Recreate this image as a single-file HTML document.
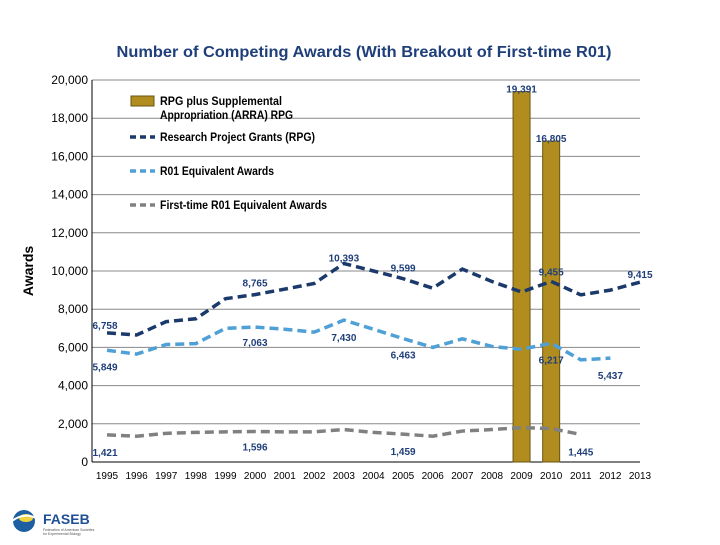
<!DOCTYPE html>
<html><head><meta charset="utf-8"><style>
body{margin:0;background:#fff;font-family:"Liberation Sans",Arial,sans-serif}
svg text{font-family:"Liberation Sans",Arial,sans-serif}
</style></head><body>
<svg id="chart" width="720" height="540" xmlns="http://www.w3.org/2000/svg">
<text x="364" y="57" text-anchor="middle" font-size="16" font-weight="bold" fill="#1f3f7a" textLength="495" lengthAdjust="spacingAndGlyphs">Number of Competing Awards (With Breakout of First-time R01)</text>
<text transform="translate(33,271) rotate(-90)" text-anchor="middle" font-size="14" font-weight="bold" fill="#000">Awards</text>
<g id="grid"></g><g id="bars"></g><g id="lines"></g><g id="labels"></g><g id="axes"></g>
<g font-size="11.5" font-weight="bold" fill="#000">
<rect x="131" y="96" width="23" height="10" fill="#b08d1e" stroke="#6b5410"/>
<text x="160" y="105" textLength="122" lengthAdjust="spacingAndGlyphs">RPG plus Supplemental</text>
<text x="160" y="119" textLength="133" lengthAdjust="spacingAndGlyphs">Appropriation (ARRA) RPG</text>
<line x1="130" y1="137" x2="155" y2="137" stroke="#1b3a6b" stroke-width="3.5" stroke-dasharray="6,4"/>
<text x="160" y="141" textLength="155" lengthAdjust="spacingAndGlyphs">Research Project Grants (RPG)</text>
<line x1="130" y1="171" x2="155" y2="171" stroke="#4fa0d6" stroke-width="3.5" stroke-dasharray="6,4"/>
<text x="160" y="175" textLength="114" lengthAdjust="spacingAndGlyphs">R01 Equivalent Awards</text>
<line x1="130" y1="205" x2="155" y2="205" stroke="#808080" stroke-width="3.5" stroke-dasharray="6,4"/>
<text x="160" y="209" textLength="167" lengthAdjust="spacingAndGlyphs">First-time R01 Equivalent Awards</text>
</g>
<g>
<circle cx="24" cy="521" r="11" fill="#1e5fa3"/>
<ellipse cx="26" cy="518" rx="7" ry="4" fill="#f2d23a"/>
<path d="M12 521 Q24 512 36 518" stroke="#fff" stroke-width="2" fill="none"/>
<text x="43" y="524" font-size="14" font-weight="bold" fill="#1f4f96">FASEB</text>
<text x="43" y="531" font-size="3.5" fill="#555">Federation of American Societies</text>
<text x="43" y="535" font-size="3.5" fill="#555">for Experimental Biology</text>
</g>
</svg>
<script>
const years=[1995,1996,1997,1998,1999,2000,2001,2002,2003,2004,2005,2006,2007,2008,2009,2010,2011,2012,2013];
const rpg=[6758,6650,7350,7500,8550,8765,9050,9350,10393,10000,9599,9100,10100,9450,8900,9455,8750,9000,9415];
const r01=[5849,5650,6150,6200,7000,7063,6950,6800,7430,6950,6463,6000,6450,6050,5900,6217,5350,5437];
const firstR01=[1421,1350,1500,1550,1580,1596,1580,1580,1700,1550,1459,1350,1620,1700,1800,1750,1445];
const arraYears=[2009,2010];
const arraValues=[19391,16805];
const yTicks=[0,2000,4000,6000,8000,10000,12000,14000,16000,18000,20000];
const rpgLabelIdx=[0,5,8,10,15,18];
const r01LabelIdx=[0,5,8,10,15,17];
const firstLabelIdx=[0,5,10,16];
const NS="http://www.w3.org/2000/svg";
const X=y=>107+(y-1995)*(533/18);
const Y=v=>462-v*(382/20000);
const fmt=v=>v.toLocaleString('en-US');
function mk(p,t,a){const e=document.createElementNS(NS,t);for(const k in a)e.setAttribute(k,a[k]);document.getElementById(p).appendChild(e);return e;}
yTicks.forEach(t=>{
 const l=mk('grid','line',{x1:92,x2:640,y1:Y(t),y2:Y(t),stroke:t===0?'#000':'#888','stroke-width':1});
 
 
 const tx=mk('axes','text',{x:88,y:Y(t)+4,'text-anchor':'end','font-size':12,fill:'#000'});tx.textContent=fmt(t);
 
 
});
const ax=mk('axes','line',{x1:92,x2:92,y1:Y(20000),y2:462,stroke:'#000'});


years.forEach(y=>{
 const t=mk('axes','text',{x:X(y),y:479,'text-anchor':'middle','font-size':10,fill:'#000'});t.textContent=y;
 
 
});
arraYears.forEach((y,i)=>{
 const r=mk('bars','rect',{x:X(y)-8.5,y:Y(arraValues[i]),width:17,height:462-Y(arraValues[i]),fill:'#b08d1e',stroke:'#6b5410'});
 
 
 const t=mk('labels','text',{x:X(y),y:Y(arraValues[i])+1,'text-anchor':'middle','font-size':10,'font-weight':'bold',fill:'#1f3f7a'});t.textContent=fmt(arraValues[i]);
 
 
});
function series(vals,color,name,idx,dy){
 const p=mk('lines','polyline',{points:vals.map((v,i)=>X(years[i])+','+Y(v)).join(' '),fill:'none',stroke:color,'stroke-width':3.5,'stroke-dasharray':'9,5'});
 
 
 idx.forEach((i,k)=>{
  const t=mk('labels','text',{x:X(years[i])+(i===0?-2:0),y:Y(vals[i])+dy[k],'text-anchor':'middle','font-size':10,'font-weight':'bold',fill:'#1f3f7a'});
  t.textContent=fmt(vals[i]);
  
  
 });
}
series(firstR01,'#808080','line-first-r01',firstLabelIdx,[21,19,21,21]);
series(r01,'#4fa0d6','line-r01',r01LabelIdx,[20,19,21,20,20,21]);
series(rpg,'#1b3a6b','line-rpg',rpgLabelIdx,[-4,-8,-2,-7,-6,-4]);
</script>
</body></html>
